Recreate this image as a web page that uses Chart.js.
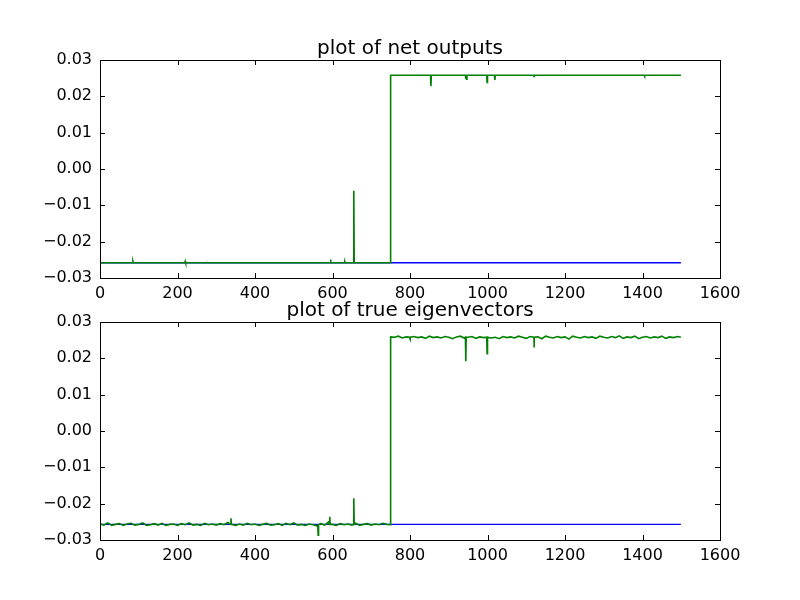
<!DOCTYPE html>
<html>
<head>
<meta charset="utf-8">
<script src="https://cdn.jsdelivr.net/npm/chart.js@4.4.1/dist/chart.umd.min.js"></script>
<style>
  body { margin: 0; background: #fff; }
  .wrap { position: absolute; left: 0; top: 0; width: 800px; height: 600px; }
</style>
</head>
<body>
<div class="wrap"><canvas id="netChart" width="800" height="600"></canvas></div>
<div class="wrap"><canvas id="eigChart" width="800" height="600"></canvas></div>
<script>
// x ticks shared by both plots
var xTicks = [0, 200, 400, 600, 800, 1000, 1200, 1400, 1600];
var yTicks = [-0.03, -0.02, -0.01, 0.00, 0.01, 0.02, 0.03];

// top plot: net outputs
var netBlueX = [0, 1499];
var netBlueY = [-0.0258, -0.0258];
var netGreenX = [0, 84, 85, 86, 219, 220, 221, 274, 275, 276, 594, 595, 596, 631, 632, 633,
    654, 655, 656, 749, 750, 853, 854, 855, 943, 944, 946, 947, 998, 999, 1000,
    1018, 1019, 1020, 1119, 1120, 1121, 1404, 1405, 1406, 1499];
var netGreenY = [-0.0258, -0.0258, -0.0254, -0.0258, -0.0258, -0.0254, -0.0258, -0.0258, -0.0255, -0.0258,
    -0.0258, -0.0249, -0.0258, -0.0258, -0.0255, -0.0258, -0.0258, -0.0060, -0.0258, -0.0258, 0.0258,
    0.0258, 0.0228, 0.0258, 0.0258, 0.0250, 0.0247, 0.0258, 0.0258, 0.0238, 0.0258,
    0.0258, 0.0245, 0.0258, 0.0258, 0.0255, 0.0258, 0.0258, 0.0255, 0.0258, 0.0258];

// bottom plot: true eigenvectors
var eigBlueX = [0, 1499];
var eigBlueY = [-0.0257, -0.0257];
// green, every 10 samples, x = 0..740
var eigLowY = [
    -0.0256, -0.0259, -0.0253, -0.0260, -0.0257, -0.0255, -0.0260, -0.0256, -0.0254, -0.0259,
    -0.0257, -0.0253, -0.0260, -0.0258, -0.0255, -0.0259, -0.0254, -0.0260, -0.0257, -0.0256,
    -0.0260, -0.0255, -0.0258, -0.0253, -0.0259, -0.0257, -0.0260, -0.0254, -0.0258, -0.0256,
    -0.0259, -0.0255, -0.0258, -0.0252, -0.0257, -0.0260, -0.0256, -0.0259, -0.0254, -0.0258,
    -0.0256, -0.0260, -0.0257, -0.0254, -0.0259, -0.0258, -0.0255, -0.0260, -0.0254, -0.0258,
    -0.0253, -0.0259, -0.0257, -0.0260, -0.0256, -0.0258, -0.0261, -0.0255, -0.0259, -0.0250,
    -0.0257, -0.0260, -0.0255, -0.0258, -0.0256, -0.0259, -0.0254, -0.0260, -0.0257, -0.0255,
    -0.0259, -0.0256, -0.0258, -0.0254, -0.0257];
// green, every 10 samples, x = 760..1490
var eigHighY = [
    0.0258, 0.0261, 0.0256, 0.0259, 0.0253, 0.0260, 0.0257, 0.0259, 0.0255, 0.0261,
    0.0257, 0.0259, 0.0256, 0.0260, 0.0258, 0.0254, 0.0259, 0.0261, 0.0256, 0.0258,
    0.0260, 0.0255, 0.0259, 0.0257, 0.0261, 0.0256, 0.0258, 0.0254, 0.0260, 0.0257,
    0.0259, 0.0256, 0.0261, 0.0258, 0.0255, 0.0260, 0.0257, 0.0259, 0.0254, 0.0261,
    0.0258, 0.0256, 0.0260, 0.0257, 0.0259, 0.0253, 0.0261, 0.0258, 0.0256, 0.0260,
    0.0257, 0.0259, 0.0255, 0.0261, 0.0258, 0.0256, 0.0260, 0.0257, 0.0262, 0.0255,
    0.0259, 0.0257, 0.0261, 0.0254, 0.0258, 0.0260, 0.0256, 0.0259, 0.0257, 0.0261,
    0.0255, 0.0259, 0.0257, 0.0260];
// spikes and the step
var eigExtraX = [337, 338, 339, 562, 563, 564, 592, 593, 594, 654, 655, 656, 749, 750,
    799, 800, 801, 943, 944, 945, 998, 999, 1000, 1119, 1120, 1121, 1499];
var eigExtraY = [-0.0257, -0.0240, -0.0257, -0.0258, -0.0287, -0.0258, -0.0257, -0.0236, -0.0257,
    -0.0257, -0.0185, -0.0257, -0.0258, 0.0259, 0.0258, 0.0252, 0.0258,
    0.0258, 0.0192, 0.0258, 0.0258, 0.0213, 0.0258, 0.0258, 0.0230, 0.0258, 0.0258];

function toPoints(xs, ys) {
    return xs.map(function (x, i) { return { x: x, y: ys[i] }; });
}

var eigGreen = [];
eigLowY.forEach(function (y, i) { eigGreen.push({ x: i * 10, y: y }); });
eigHighY.forEach(function (y, i) { eigGreen.push({ x: 760 + i * 10, y: y }); });
eigGreen = eigGreen.concat(toPoints(eigExtraX, eigExtraY));
eigGreen.sort(function (a, b) { return a.x - b.x; });

function fmtY(v) {
    if (Math.abs(v) < 1e-9) return '0.00';
    return v.toFixed(2).replace('-', '\u2212');
}

// frame, inward ticks and title like matplotlib
function framePlugin(title) {
    return {
        id: 'frame',
        afterDraw: function (chart) {
            var ctx = chart.ctx;
            var a = chart.chartArea;
            var xs = chart.scales.x, ys = chart.scales.y;
            ctx.save();
            ctx.strokeStyle = '#000';
            ctx.lineWidth = 1;
            ctx.strokeRect(Math.round(a.left) + 0.5, Math.round(a.top) + 0.5,
                Math.round(a.right - a.left), Math.round(a.bottom - a.top));
            ctx.beginPath();
            xTicks.forEach(function (t) {
                var px = Math.round(xs.getPixelForValue(t)) + 0.5;
                ctx.moveTo(px, a.bottom); ctx.lineTo(px, a.bottom - 5);
                ctx.moveTo(px, a.top); ctx.lineTo(px, a.top + 5);
            });
            yTicks.forEach(function (t) {
                var py = Math.round(ys.getPixelForValue(t)) + 0.5;
                ctx.moveTo(a.left, py); ctx.lineTo(a.left + 5, py);
                ctx.moveTo(a.right, py); ctx.lineTo(a.right - 5, py);
            });
            ctx.stroke();
            ctx.fillStyle = '#000';
            ctx.font = '20px "DejaVu Sans"';
            ctx.textAlign = 'center';
            ctx.textBaseline = 'alphabetic';
            ctx.fillText(title, (a.left + a.right) / 2, a.top - 6);
            ctx.restore();
        }
    };
}

function makeChart(id, title, blue, green, top) {
    var ctx = document.getElementById(id).getContext('2d');
    return new Chart(ctx, {
        type: 'line',
        data: {
            datasets: [{
                data: blue,
                borderColor: '#0000ff',
                borderWidth: 1.4,
                pointRadius: 0,
                tension: 0,
                order: 2
            }, {
                data: green,
                borderColor: '#008000',
                borderWidth: 1.6,
                pointRadius: 0,
                tension: 0,
                order: 1
            }]
        },
        options: {
            responsive: false,
            animation: false,
            layout: { padding: { left: 0, right: 80, top: top, bottom: 0 } },
            plugins: { legend: { display: false }, tooltip: { enabled: false } },
            scales: {
                x: {
                    type: 'linear',
                    min: 0, max: 1600,
                    grid: { display: false, drawTicks: false },
                    border: { display: false },
                    afterBuildTicks: function (s) { s.ticks = xTicks.map(function (v) { return { value: v }; }); },
                    afterFit: function (s) { s.height = 600 - top - 218; },
                    ticks: {
                        padding: 6,
                        color: '#000',
                        maxRotation: 0,
                        font: { family: 'DejaVu Sans', size: 16 },
                        callback: function (v) { return String(v); }
                    }
                },
                y: {
                    min: -0.03, max: 0.03,
                    grid: { display: false, drawTicks: false },
                    border: { display: false },
                    afterBuildTicks: function (s) { s.ticks = yTicks.map(function (v) { return { value: v }; }); },
                    afterFit: function (s) { s.width = 100; },
                    ticks: {
                        padding: 8,
                        color: '#000',
                        font: { family: 'DejaVu Sans', size: 16 },
                        callback: function (v) { return fmtY(v); }
                    }
                }
            }
        },
        plugins: [framePlugin(title)]
    });
}

makeChart('netChart', 'plot of net outputs',
    toPoints(netBlueX, netBlueY), toPoints(netGreenX, netGreenY), 60);
makeChart('eigChart', 'plot of true eigenvectors',
    toPoints(eigBlueX, eigBlueY), eigGreen, 322);
</script>
</body>
</html>
